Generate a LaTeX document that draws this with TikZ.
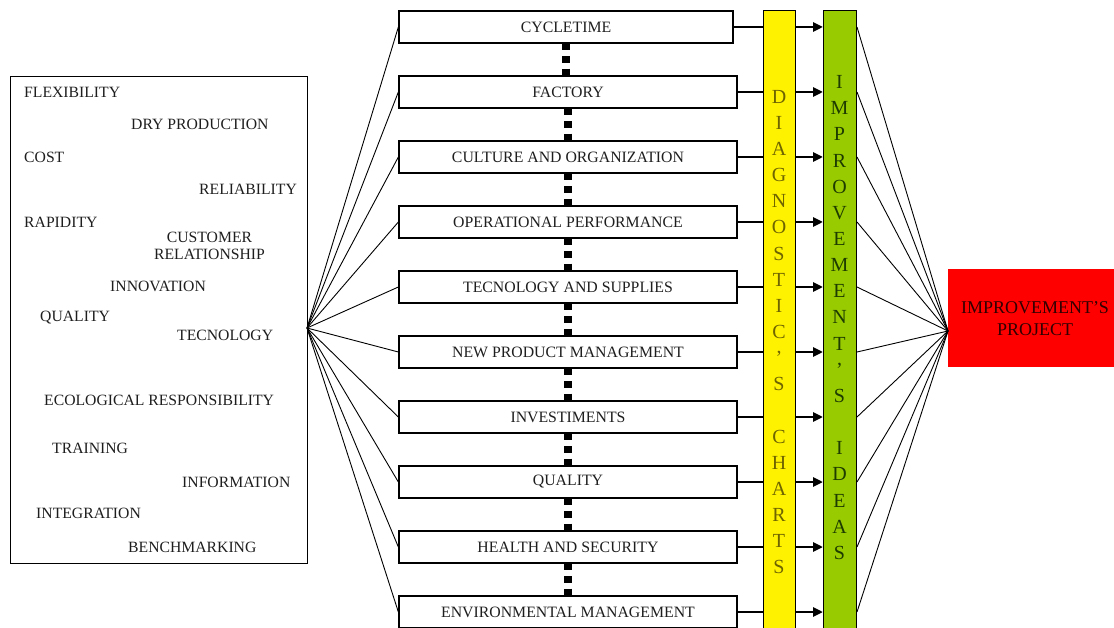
\documentclass[tikz,border=0pt]{standalone}
\usepackage{fontspec}
\setmainfont{Liberation Serif}
\usetikzlibrary{arrows.meta,calc}
\definecolor{ideasgreen}{RGB}{153,204,0}
\definecolor{diagtext}{RGB}{110,100,0}
\definecolor{ideastext}{RGB}{30,60,0}
\definecolor{itemtext}{RGB}{30,30,30}
\definecolor{redtext}{RGB}{50,0,0}
\begin{document}
\begin{tikzpicture}[x=1pt,y=-1pt,
  mbox/.style={draw, line width=1.3pt, fill=white, minimum height=32pt, inner sep=0pt,
    font=\fontsize{15.8}{18}\selectfont, text=itemtext},
  item/.style={anchor=west, inner sep=0pt, font=\fontsize{15.7}{17}\selectfont, text=itemtext},
  hubline/.style={line width=0.9pt},
  arr/.style={line width=2.6pt, -{Triangle[length=10pt,width=9pt]}},
  dots/.style={line width=7.5pt, dash pattern=on 6.5pt off 6pt},
  vlet/.style={font=\fontsize{20}{26.15}\selectfont, align=center, inner sep=0pt},
  bar/.style={draw, line width=1pt, minimum height=625pt, anchor=north west, inner sep=0pt}
]
\useasboundingbox (0,0) rectangle (1114,628);

% left box
\node[draw, line width=1.3pt, minimum width=297pt, minimum height=487pt, anchor=north west, inner sep=0pt] (lbox) at (10,76) {};
\coordinate (hubL) at (307,328);
\node[item] (i1) at (24,92) {FLEXIBILITY};
\node[item] (i2) at (131,124) {DRY PRODUCTION};
\node[item] (i3) at (24,157) {COST};
\node[item] (i4) at (199,189) {RELIABILITY};
\node[item] (i5) at (24,222) {RAPIDITY};
\node[inner sep=0pt, align=center, font=\fontsize{15.7}{17}\selectfont, text=itemtext] (i6) at (209.5,245.5) {CUSTOMER\\RELATIONSHIP};
\node[item] (i7) at (110,286) {INNOVATION};
\node[item] (i8) at (40,318) {QUALITY};
\node[item] (i9) at (177,335) {TECNOLOGY};
\node[item] (i10) at (44,400) {ECOLOGICAL RESPONSIBILITY};
\node[item] (i11) at (52,448) {TRAINING};
\node[item] (i12) at (182,482) {INFORMATION};
\node[item] (i13) at (36,513) {INTEGRATION};
\node[item] (i14) at (128,547) {BENCHMARKING};

% middle boxes
\node[mbox, minimum width=334pt] (b1) at (566,27) {CYCLETIME};
\node[mbox, minimum width=338pt] (b2) at (568,92) {FACTORY};
\node[mbox, minimum width=338pt] (b3) at (568,157) {CULTURE AND ORGANIZATION};
\node[mbox, minimum width=338pt] (b4) at (568,222) {OPERATIONAL PERFORMANCE};
\node[mbox, minimum width=338pt] (b5) at (568,287) {TECNOLOGY AND SUPPLIES};
\node[mbox, minimum width=338pt] (b6) at (568,352) {NEW PRODUCT MANAGEMENT};
\node[mbox, minimum width=338pt] (b7) at (568,417) {INVESTIMENTS};
\node[mbox, minimum width=338pt] (b8) at (568,482) {QUALITY};
\node[mbox, minimum width=338pt] (b9) at (568,547) {HEALTH AND SECURITY};
\node[mbox, minimum width=338pt] (b10) at (568,612) {ENVIRONMENTAL MANAGEMENT};

% dotted connectors between boxes
\foreach \a/\b in {b1/b2,b2/b3,b3/b4,b4/b5,b5/b6,b6/b7,b7/b8,b8/b9,b9/b10}
  \draw[dots] (\a.south) -- (\a.south |- \b.north);

% hub lines from left box
\foreach \b in {b1,b2,b3,b4,b5,b6,b7,b8,b9,b10}
  \draw[hubline] (hubL) -- (\b.west);

% red box
\node[fill=red, minimum width=166pt, minimum height=98pt, anchor=north west, inner sep=0pt] (red) at (948,269) {};
\node[align=center, inner sep=0pt, font=\fontsize{18}{22}\selectfont, text=redtext] (redtxt) at (1035,319) {IMPROVEMENT'S\\PROJECT};
\coordinate (hubR) at (948,331);

% bars
\node[bar, fill=ideasgreen, minimum width=33pt] (ideas) at (823,10) {};
\foreach \b in {b1,b2,b3,b4,b5,b6,b7,b8,b9,b10}
  \draw[arr] (\b.east) -- (\b.east -| ideas.west);
\node[bar, fill=yellow, minimum width=32pt] (diag) at (763,10) {};

\node[vlet, text=diagtext] (diagtxt) at (779,332) {D\\I\\A\\G\\N\\O\\S\\T\\I\\C\\'\\S\\[26.15pt]C\\H\\A\\R\\T\\S};
\node[vlet, text=ideastext] (ideastxt) at (839.5,317.5) {I\\M\\P\\R\\O\\V\\E\\M\\E\\N\\T\\'\\S\\[26.15pt]I\\D\\E\\A\\S};

% lines to project
\foreach \b in {b1,b2,b3,b4,b5,b6,b7,b8,b9,b10}
  \draw[hubline] (ideas.east |- \b) -- (hubR);
\end{tikzpicture}
\end{document}
